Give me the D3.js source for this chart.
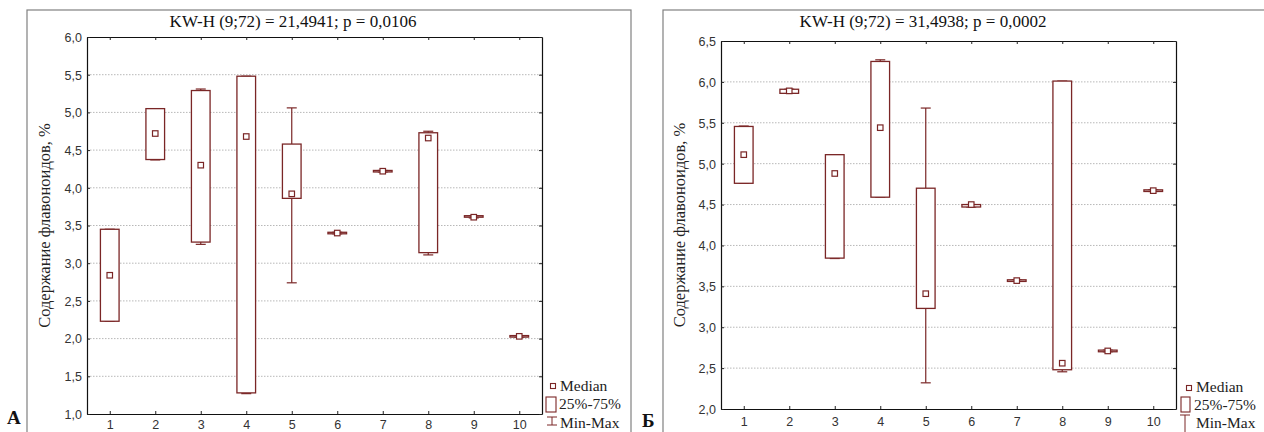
<!DOCTYPE html>
<html><head><meta charset="utf-8">
<script src="https://cdn.jsdelivr.net/npm/d3@7"></script>
<style>body{margin:0;background:#fff}svg{display:block}</style>
</head><body>
<svg id="c" width="1264" height="432"></svg>
<script>
// ---- data ----
const categories = [1,2,3,4,5,6,7,8,9,10];
const yTicksA = [1.0,1.5,2.0,2.5,3.0,3.5,4.0,4.5,5.0,5.5,6.0];
const yTicksB = [2.0,2.5,3.0,3.5,4.0,4.5,5.0,5.5,6.0,6.5];
const titleA = "KW-H (9;72) = 21,4941; p = 0,0106";
const titleB = "KW-H (9;72) = 31,4938; p = 0,0002";
const yLabel = "Содержание флавоноидов, %";
const legendLabels = ["Median","25%-75%","Min-Max"];

const minA = [2.23, 4.37, 3.25, 1.27, 2.74, 3.39, 4.21, 3.11, 3.60, 2.02];
const q1A  = [2.23, 4.375,3.28, 1.28, 3.86, 3.39, 4.21, 3.14, 3.61, 2.02];
const medA = [2.84, 4.72, 4.30, 4.68, 3.92, 3.40, 4.22, 4.66, 3.61, 2.03];
const q3A  = [3.45, 5.05, 5.29, 5.48, 4.58, 3.41, 4.23, 4.73, 3.63, 2.04];
const maxA = [3.45, 5.05, 5.31, 5.48, 5.06, 3.41, 4.23, 4.75, 3.63, 2.04];

const minB = [4.76, 5.86, 3.84, 4.59, 2.32, 4.47, 3.56, 2.455,2.70, 4.66];
const q1B  = [4.76, 5.86, 3.845,4.59, 3.23, 4.47, 3.56, 2.48, 2.70, 4.66];
const medB = [5.11, 5.89, 4.88, 5.44, 3.41, 4.50, 3.57, 2.56, 2.71, 4.67];
const q3B  = [5.455,5.91, 5.11, 6.25, 4.70, 4.50, 3.58, 6.01, 2.72, 4.68];
const maxB = [5.46, 5.91, 5.11, 6.27, 5.68, 4.50, 3.58, 6.01, 2.72, 4.68];

// ---- drawing ----
const svg = d3.select("#c");
const MAROON = "#7a2626";
const SERIF = "'Liberation Serif','Times New Roman',serif";
const SANS = "'Liberation Sans',Arial,sans-serif";
const fmt = v => d3.format(".1f")(v).replace(".", ",");

function panel(cfg) {
  const g = svg.append("g");
  g.append("rect").attr("x", cfg.frame[0]).attr("y", cfg.frame[1])
    .attr("width", cfg.frame[2]).attr("height", cfg.frame[3])
    .attr("fill", "none").attr("stroke", "#808080").attr("stroke-width", 1.2);

  const [L, T, R, B] = cfg.plot;
  const x = d3.scaleLinear().domain([0.5, 10.5]).range([L, R]);
  const y = d3.scaleLinear().domain(cfg.yDomain).range([B, T]);

  g.append("g").selectAll("line").data(cfg.yTicks.filter(t => t > cfg.yDomain[0] && t < cfg.yDomain[1]))
    .join("line").attr("x1", L).attr("x2", R).attr("y1", d => y(d)).attr("y2", d => y(d))
    .attr("stroke", "#b8b8b8").attr("stroke-width", 1).attr("stroke-dasharray", "1.5,1.5");

  const axes = [
    [d3.axisBottom(x).tickValues(categories).tickSize(-3).tickFormat(d3.format("d")), `translate(0,${B})`, "b"],
    [d3.axisTop(x).tickValues(categories).tickSize(-3).tickFormat(""), `translate(0,${T})`, "t"],
    [d3.axisLeft(y).tickValues(cfg.yTicks).tickSize(-3).tickFormat(fmt), `translate(${L},0)`, "l"],
    [d3.axisRight(y).tickValues(cfg.yTicks).tickSize(-3).tickFormat(""), `translate(${R},0)`, "r"]
  ];
  axes.forEach(([ax, tr, k]) => {
    const a = g.append("g").attr("transform", tr).call(ax.tickSizeOuter(0));
    a.select(".domain").attr("stroke", "#111").attr("stroke-width", 1.2);
    a.selectAll(".tick line").attr("stroke", "#222");
    a.selectAll("text").attr("font-family", SANS).attr("font-size", 12.5).attr("fill", "#333");
    if (k === "l") a.selectAll("text").attr("x", -5).attr("dy", "0.35em");
    if (k === "b") a.selectAll("text").attr("y", cfg.xLabelY - B).attr("dy", 0);
  });

  g.append("text").attr("x", cfg.titleX).attr("y", cfg.titleY).attr("text-anchor", "middle")
    .attr("font-family", SERIF).attr("font-size", 17).attr("fill", "#111").text(cfg.title);
  g.append("text").attr("transform", `translate(${cfg.yLabX},${(T + B) / 2}) rotate(-90)`)
    .attr("text-anchor", "middle").attr("dominant-baseline", "central")
    .attr("font-family", SERIF).attr("font-size", 16.5).attr("fill", "#222").text(yLabel);
  g.append("text").attr("x", cfg.letter[0]).attr("y", cfg.letter[1])
    .attr("font-family", SERIF).attr("font-weight", "bold").attr("font-size", 19)
    .attr("fill", "#111").text(cfg.letterText);

  const bw = (x(2) - x(1)) * 0.41, cw = 10, ms = 5.5;
  const data = categories.map((c, i) => ({c, mn: cfg.min[i], q1: cfg.q1[i], md: cfg.med[i], q3: cfg.q3[i], mx: cfg.max[i]}));
  const bx = g.append("g").selectAll("g").data(data).join("g");
  bx.append("line").attr("x1", d => x(d.c)).attr("x2", d => x(d.c))
    .attr("y1", d => y(d.mx)).attr("y2", d => y(d.q3)).attr("stroke", MAROON).attr("stroke-width", 1.2);
  bx.append("line").attr("x1", d => x(d.c)).attr("x2", d => x(d.c))
    .attr("y1", d => y(d.q1)).attr("y2", d => y(d.mn)).attr("stroke", MAROON).attr("stroke-width", 1.2);
  bx.append("line").attr("x1", d => x(d.c) - cw / 2).attr("x2", d => x(d.c) + cw / 2)
    .attr("y1", d => y(d.mx)).attr("y2", d => y(d.mx)).attr("stroke", MAROON).attr("stroke-width", 1.2);
  bx.append("line").attr("x1", d => x(d.c) - cw / 2).attr("x2", d => x(d.c) + cw / 2)
    .attr("y1", d => y(d.mn)).attr("y2", d => y(d.mn)).attr("stroke", MAROON).attr("stroke-width", 1.2);
  bx.append("rect").attr("x", d => x(d.c) - bw / 2).attr("width", bw)
    .attr("y", d => y(d.q3)).attr("height", d => Math.max(0.5, y(d.q1) - y(d.q3)))
    .attr("fill", "#fff").attr("stroke", MAROON).attr("stroke-width", 1.3);
  bx.append("rect").attr("x", d => x(d.c) - ms / 2).attr("y", d => y(d.md) - ms / 2)
    .attr("width", ms).attr("height", ms).attr("fill", "#fff").attr("stroke", MAROON).attr("stroke-width", 1.2);

  const lg = cfg.legend;
  g.append("rect").attr("x", lg.sq[0] - 2.5).attr("y", lg.sq[1] - 2.5).attr("width", 5).attr("height", 5)
    .attr("fill", "#fff").attr("stroke", MAROON).attr("stroke-width", 1.1);
  g.append("rect").attr("x", lg.box[0]).attr("y", lg.box[1]).attr("width", lg.box[2]).attr("height", lg.box[3])
    .attr("fill", "#fff").attr("stroke", MAROON).attr("stroke-width", 1.1);
  const wx = lg.wh[0];
  g.append("line").attr("x1", wx - 5).attr("x2", wx + 5).attr("y1", lg.wh[1]).attr("y2", lg.wh[1]).attr("stroke", MAROON);
  g.append("line").attr("x1", wx).attr("x2", wx).attr("y1", lg.wh[1]).attr("y2", lg.wh[2]).attr("stroke", MAROON);
  if (lg.wh[3]) g.append("line").attr("x1", wx - 5).attr("x2", wx + 5).attr("y1", lg.wh[2]).attr("y2", lg.wh[2]).attr("stroke", MAROON);
  legendLabels.forEach((t, i) => {
    g.append("text").attr("x", lg.tx[i]).attr("y", lg.ty[i]).attr("font-family", SERIF)
      .attr("font-size", lg.fs).attr("fill", "#222").text(t);
  });
}

panel({
  frame: [27, 10, 604, 440], plot: [87, 37, 542, 414], yDomain: [1, 6], yTicks: yTicksA,
  title: titleA, titleX: 293, titleY: 27, yLabX: 44, xLabelY: 429,
  letter: [7, 424], letterText: "А",
  min: minA, q1: q1A, med: medA, q3: q3A, max: maxA,
  legend: {sq: [553, 386], box: [546, 397, 10, 15], wh: [552, 417, 425, true],
           tx: [560, 559, 560], ty: [391, 409, 428], fs: 15.5}
});
panel({
  frame: [663, 10, 620, 440], plot: [721, 41, 1176, 409], yDomain: [2, 6.5], yTicks: yTicksB,
  title: titleB, titleX: 923, titleY: 27, yLabX: 679, xLabelY: 426,
  letter: [642, 427], letterText: "Б",
  min: minB, q1: q1B, med: medB, q3: q3B, max: maxB,
  legend: {sq: [1189, 388], box: [1181, 397, 9, 15], wh: [1185, 415, 432, false],
           tx: [1196, 1194, 1196], ty: [392, 410, 428], fs: 15.5}
});
</script>
</body></html>
